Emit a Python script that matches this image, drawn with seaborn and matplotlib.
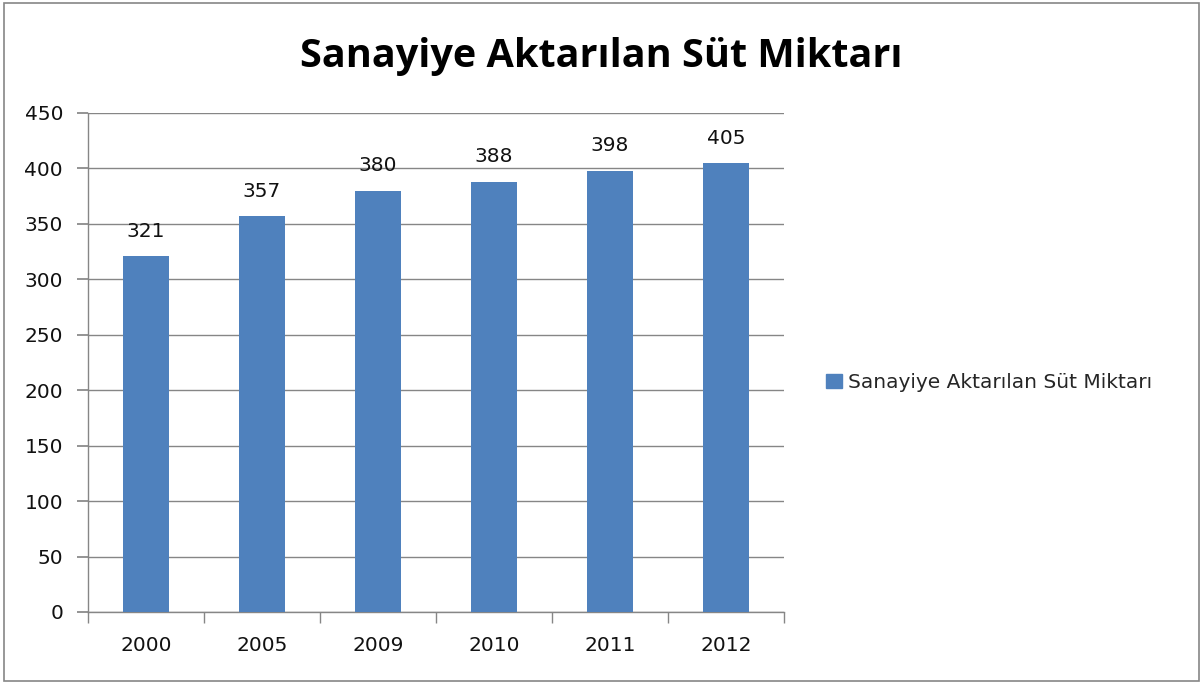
import matplotlib
matplotlib.use("Agg")
import matplotlib.pyplot as plt
import seaborn as sns
import pandas as pd
from matplotlib.patches import Rectangle, Patch

years = ["2000", "2005", "2009", "2010", "2011", "2012"]
values = [321, 357, 380, 388, 398, 405]
series_name = "Sanayiye Aktarılan Süt Miktarı"
title = "Sanayiye Aktarılan Süt Miktarı"

sns.set_theme(style="white")
plt.rcParams['font.family'] = ['DejaVu Sans']

df = pd.DataFrame({"year": years, "value": values})

fig = plt.figure(figsize=(12.03, 6.84), dpi=100)
ax = fig.add_axes([0.0732, 0.1053, 0.5785, 0.7295])

bar_color = "#4F81BD"
sns.barplot(data=df, x="year", y="value", color=bar_color, width=0.4, ax=ax,
            saturation=1, zorder=3, linewidth=0)

ax.set_ylim(0, 450)
ax.set_yticks(range(0, 451, 50))
ax.set_xlim(-0.5, len(years) - 0.5)
ax.yaxis.grid(True, color="#868686", linewidth=1, zorder=0)
ax.set_axisbelow(True)
ax.set_xlabel("")
ax.set_ylabel("")

for s in ["top", "right"]:
    ax.spines[s].set_visible(False)
for s in ["left", "bottom"]:
    ax.spines[s].set_color("#868686")
    ax.spines[s].set_linewidth(1)

lab = 14.5
ax.tick_params(axis="y", which="major", length=8, color="#868686", labelsize=lab,
               left=True, pad=10, labelcolor="#111111")
ax.set_xticks([i - 0.5 for i in range(len(years) + 1)], minor=True)
ax.tick_params(axis="x", which="minor", length=8, color="#868686", bottom=True)
ax.tick_params(axis="x", which="major", length=0, labelsize=lab, pad=17, labelcolor="#111111")

for c in ax.containers:
    ax.bar_label(c, labels=[str(v) for v in values], padding=11, fontsize=lab, color="#111111")

fig.text(0.5, 0.918, title, ha="center", va="center", fontsize=28.5, fontweight="bold",
         color="black", family=["Open Sans", "DejaVu Sans"])

handle = Patch(facecolor=bar_color, edgecolor=bar_color)
ax.legend([handle], [series_name], loc="center left", bbox_to_anchor=(1.035, 0.46),
          frameon=False, fontsize=lab, handlelength=0.75, handleheight=0.75,
          handletextpad=0.3)

fig.patches.append(Rectangle((0.003, 0.004), 0.994, 0.992, transform=fig.transFigure,
                             fill=False, edgecolor="#868686", linewidth=1.2))

fig.savefig("out.png", dpi=100, facecolor="white")
